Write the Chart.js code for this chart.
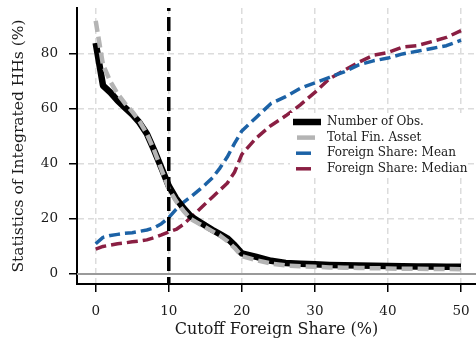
<!DOCTYPE html>
<html><head><meta charset="utf-8">
<script src="https://cdn.jsdelivr.net/npm/chart.js@4.4.0/dist/chart.umd.min.js"></script>
<style>html,body{margin:0;padding:0;background:#fff;}#wrap{width:476px;height:342px;}</style>
</head><body><div id="wrap"><canvas id="c" width="476" height="342"></canvas></div>
<script>
// ---- data ----
const cutoffs = [0,1,2,3,4,5,6,7,8,9,10,11,12,13,14,15,16,17,18,19,20,22,24,26,28,30,32,34,36,38,40,42,44,46,48,50];
const numObs = [84,68.5,66,63,60.5,58,55,51,45,38.5,32,27.5,24,21,19.3,17.6,16,14.5,13,10.5,7.5,6.2,4.8,4.0,3.7,3.5,3.3,3.2,3.1,3.0,2.9,2.8,2.7,2.7,2.6,2.6];
const totalFinAsset = [92,76,70,65.5,62,59,55.5,51,45,38,31,26.5,23,20,18.5,17,15.5,14,12,9.5,6.5,5,3.8,3.1,2.8,2.6,2.4,2.3,2.2,2.1,2.0,1.9,1.9,1.8,1.8,1.7];
const foreignMean = [11,13.3,14,14.4,14.8,15,15.5,16,16.8,18.3,20.5,23.5,26,28,30.2,32.5,35,38.5,42.5,47.5,52,57,62,64.5,67.5,69.5,71.5,73.5,76,77.5,78.5,80,81,82,83,85];
const foreignMedian = [9,10,10.5,11,11.3,11.7,12,12.4,13.2,14.2,15.3,16.2,18,20.5,23,25.5,28,30.5,33,37,43.5,49.5,54,57.5,61.5,66,71,74,77,79.5,80.5,82.5,83,84.5,86,88.5];
const seriesLabels = ['Number of Obs.','Total Fin. Asset','Foreign Share: Mean','Foreign Share: Median'];
const xTicks = [0,10,20,30,40,50];
const yTicks = [0,20,40,60,80];
const cutoffMarker = 10;
const zeroLine = 0;

const pts = arr => cutoffs.map((c,i)=>({x:c,y:arr[i]}));
const SERIF = "'DejaVu Serif', serif";

const datasets = [
  {label:seriesLabels[0], data:pts(numObs), borderColor:'#000000', borderWidth:6.5, borderDash:[], order:2, legendLen:[0,28]},
  {label:seriesLabels[1], data:pts(totalFinAsset), borderColor:'#b4b4b4', borderWidth:4.5, borderDash:[11,5], order:1, legendLen:[4,22]},
  {label:seriesLabels[2], data:pts(foreignMean), borderColor:'#1c62a6', borderWidth:3.5, borderDash:[11,5], order:3, legendLen:[3,18]},
  {label:seriesLabels[3], data:pts(foreignMedian), borderColor:'#8a1f43', borderWidth:3.5, borderDash:[11,5], order:4, legendLen:[3,18]}
].map(d=>Object.assign(d,{pointRadius:0, tension:0, fill:false, borderCapStyle:'butt', borderJoinStyle:'round'}));

const refLines = {
  id:'refLines',
  beforeDatasetsDraw(chart){
    const {ctx, chartArea:a, scales:{y}} = chart;
    const py = y.getPixelForValue(zeroLine);
    ctx.save(); ctx.strokeStyle='#9a9a9a'; ctx.lineWidth=2; ctx.setLineDash([]);
    ctx.beginPath(); ctx.moveTo(a.left,py); ctx.lineTo(a.right,py); ctx.stroke(); ctx.restore();
  },
  afterDatasetsDraw(chart){
    const {ctx, chartArea:a, scales:{x}} = chart;
    const px = x.getPixelForValue(cutoffMarker);
    ctx.save(); ctx.strokeStyle='#000'; ctx.lineWidth=3.5; ctx.setLineDash([14,6]); ctx.lineDashOffset=11;
    ctx.beginPath(); ctx.moveTo(px,a.top); ctx.lineTo(px,a.bottom); ctx.stroke(); ctx.restore();
  }
};

const boxLegend = {
  id:'boxLegend',
  afterDraw(chart){
    const ctx = chart.ctx;
    const bx=290, by=113, bw=178, bh=65, sx=293, tx=327, y0=122, dy=15.6;
    ctx.save();
    ctx.fillStyle='#ffffff'; ctx.fillRect(bx,by,bw,bh);
    chart.data.datasets.forEach((d,i)=>{
      const yy = y0 + i*dy;
      ctx.strokeStyle=d.borderColor; ctx.lineWidth=d.borderWidth; ctx.setLineDash([]); ctx.lineCap='butt';
      ctx.beginPath(); ctx.moveTo(sx+d.legendLen[0],yy); ctx.lineTo(sx+d.legendLen[1],yy); ctx.stroke();
      ctx.fillStyle='#1a1a1a'; ctx.font="12px "+SERIF; ctx.textBaseline='middle'; ctx.textAlign='left';
      ctx.fillText(d.label, tx, yy);
    });
    ctx.restore();
  }
};

new Chart(document.getElementById('c'), {
  type:'line',
  data:{datasets},
  plugins:[refLines, boxLegend],
  options:{
    responsive:false, animation:false, devicePixelRatio:1,
    layout:{padding:{top:8,right:0,left:0,bottom:0}},
    plugins:{legend:{display:false}, tooltip:{enabled:false}},
    scales:{
      x:{type:'linear', min:-2.56, max:52.05,
        afterBuildTicks:s=>{s.ticks = xTicks.map(v=>({value:v}));},
        afterFit:s=>{s.height=58; s.paddingLeft=0; s.paddingRight=0;},
        grid:{color:'#dcdcdc', lineWidth:1.5, tickColor:'#000', tickLength:8, tickWidth:1.5},
        border:{display:true, color:'#000', width:2, dash:[6,4]},
        ticks:{color:'#1a1a1a', font:{family:SERIF, size:13.5}, padding:11, maxRotation:0, autoSkip:false},
        title:{display:true, text:'Cutoff Foreign Share (%)', color:'#1a1a1a', font:{family:SERIF, size:16}, padding:{top:0,bottom:3}}
      },
      y:{type:'linear', min:-3.64, max:96.7,
        afterBuildTicks:s=>{s.ticks = yTicks.map(v=>({value:v}));},
        afterFit:s=>{s.width=77; s.paddingTop=0; s.paddingBottom=0;},
        grid:{color:'#dcdcdc', lineWidth:1.5, tickColor:'#000', tickLength:8, tickWidth:1.5},
        border:{display:true, color:'#000', width:2, dash:[6,4]},
        ticks:{color:'#1a1a1a', font:{family:SERIF, size:13.5}, padding:11, autoSkip:false},
        title:{display:true, text:'Statistics of Integrated HHs (%)', color:'#1a1a1a', font:{family:SERIF, size:15.5}, padding:{top:10,bottom:0}}
      }
    }
  }
});
</script></body></html>
